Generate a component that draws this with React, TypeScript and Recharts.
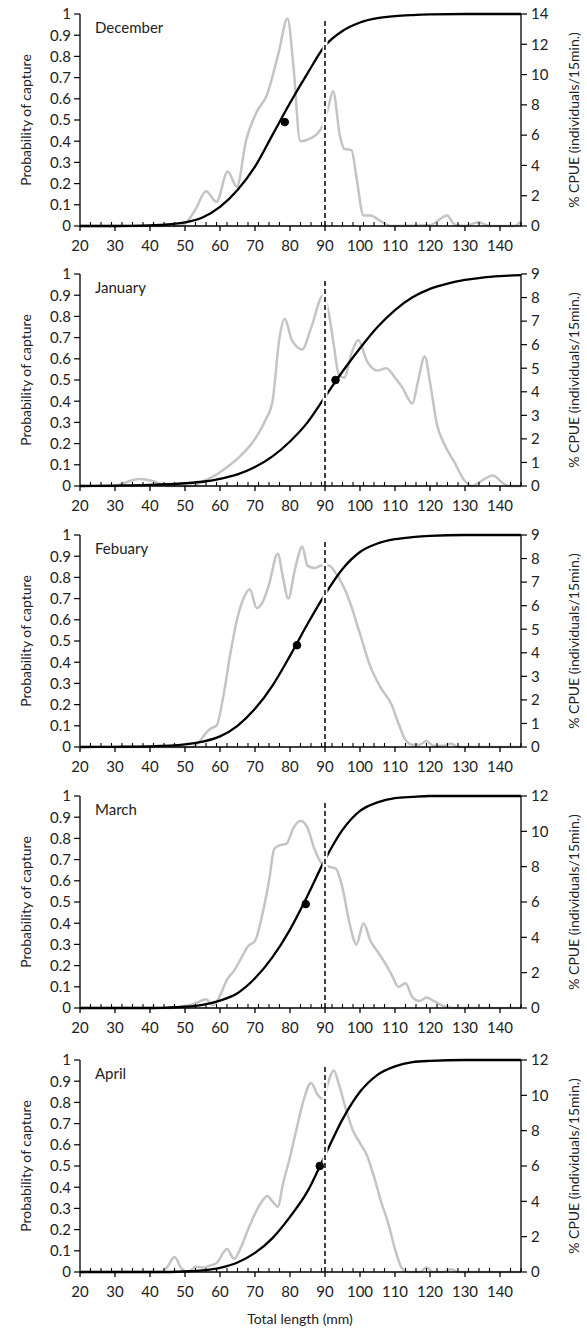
import React from 'react'
import { ComposedChart, Line, XAxis, YAxis, ReferenceLine, ReferenceDot } from 'recharts'

const FONT = 'Lato, "Open Sans", sans-serif'
const INK = '#222'

const monthNames = ['December', 'January', 'Febuary', 'March', 'April']
const plotTops = [14, 274, 535, 796, 1060]
const cpueMax = [14, 9, 9, 12, 12]
const cpueTicks = [
  [0, 2, 4, 6, 8, 10, 12, 14],
  [0, 1, 2, 3, 4, 5, 6, 7, 8, 9],
  [0, 1, 2, 3, 4, 5, 6, 7, 8, 9],
  [0, 2, 4, 6, 8, 10, 12],
  [0, 2, 4, 6, 8, 10, 12],
]
const probTicks = [0, 0.1, 0.2, 0.3, 0.4, 0.5, 0.6, 0.7, 0.8, 0.9, 1]
const lengthTicks = [20, 30, 40, 50, 60, 70, 80, 90, 100, 110, 120, 130, 140]
const minorTicks = Array.from({ length: 43 }, (_, i) => 20 + 3 * i)
const allTicks = Array.from(new Set([...lengthTicks, ...minorTicks])).sort((a, b) => a - b)
const refLength = 90

// length at 50% capture (black dot)
const l50 = [
  { x: 78.5, p: 0.49 },
  { x: 93, p: 0.5 },
  { x: 82, p: 0.48 },
  { x: 84.5, p: 0.49 },
  { x: 88.5, p: 0.5 },
]

// probability of capture curves [length, p]
const decProb = [[20, 0], [30, 0], [40, 0.003], [45, 0.007], [50, 0.017], [55, 0.04], [60, 0.09], [65, 0.17], [70, 0.28], [75, 0.43], [80, 0.58], [85, 0.72], [90, 0.85], [95, 0.92], [100, 0.96], [105, 0.98], [110, 0.99], [115, 0.995], [120, 0.998], [130, 1], [146, 1]]
const janProb = [[20, 0], [30, 0.002], [40, 0.005], [50, 0.013], [55, 0.02], [60, 0.034], [65, 0.055], [70, 0.09], [75, 0.14], [80, 0.21], [85, 0.3], [90, 0.42], [95, 0.54], [100, 0.65], [105, 0.75], [110, 0.83], [115, 0.89], [120, 0.93], [125, 0.955], [130, 0.972], [135, 0.983], [140, 0.99], [146, 0.995]]
const febProb = [[20, 0], [30, 0.001], [40, 0.003], [50, 0.012], [55, 0.025], [60, 0.05], [65, 0.1], [70, 0.18], [75, 0.29], [80, 0.43], [85, 0.58], [90, 0.72], [95, 0.84], [100, 0.92], [105, 0.96], [110, 0.98], [115, 0.99], [120, 0.996], [130, 1], [146, 1]]
const marProb = [[20, 0], [40, 0], [45, 0.002], [50, 0.006], [55, 0.015], [60, 0.035], [65, 0.07], [70, 0.14], [75, 0.24], [80, 0.37], [85, 0.53], [90, 0.7], [95, 0.84], [100, 0.93], [105, 0.97], [110, 0.99], [115, 0.996], [120, 1], [146, 1]]
const aprProb = [[20, 0], [45, 0], [50, 0.003], [55, 0.008], [60, 0.02], [65, 0.045], [70, 0.09], [75, 0.16], [80, 0.26], [85, 0.38], [90, 0.55], [95, 0.72], [100, 0.85], [105, 0.93], [110, 0.97], [115, 0.99], [120, 0.996], [130, 1], [146, 1]]

// % CPUE (individuals/15 min) [length, cpue]
const decCpue = [[20, 0], [48, 0], [50, 0.15], [53, 1.1], [56, 2.3], [59, 1.6], [62.2, 3.6], [64.8, 2.6], [67.5, 5.7], [70.4, 7.5], [73.3, 8.6], [76.7, 11.4], [79.3, 13.7], [81, 10.5], [82.9, 5.6], [86, 5.8], [89.5, 6.7], [91, 7.9], [92.3, 8.9], [94.3, 5.9], [95.5, 5.1], [97.6, 5.0], [99, 3.2], [101, 0.7], [103, 0.7], [106, 0.3], [109, 0], [120, 0.05], [124.9, 0.7], [127, 0.1], [130, 0], [133.8, 0.25], [137, 0], [144, 0], [146, 0.3]]
const janCpue = [[20, 0], [30, 0], [33, 0.15], [37, 0.3], [41, 0.2], [45, 0], [52, 0], [55, 0.2], [58, 0.4], [62, 0.8], [66, 1.3], [70, 2.0], [73, 2.8], [75, 3.6], [77, 6.3], [78.5, 7.1], [80.5, 6.2], [83.5, 5.8], [86, 6.7], [89.5, 8.1], [91, 7.4], [92.5, 6.0], [94, 4.7], [95.5, 4.6], [97.5, 5.6], [99.5, 6.2], [102, 5.3], [105, 4.9], [107.5, 5.0], [110, 4.6], [112, 4.2], [115, 3.5], [116.5, 4.4], [118.5, 5.5], [120, 4.4], [122, 2.6], [124, 1.8], [127, 1.0], [130, 0.2], [132, 0], [134.5, 0.2], [138, 0.45], [141, 0.1], [142.5, 0], [146, 0]]
const febCpue = [[20, 0], [52, 0], [54, 0.2], [56, 0.6], [57.5, 0.8], [59, 0.9], [61, 2.2], [63, 4.0], [65, 5.5], [67, 6.4], [68.5, 6.7], [70.5, 5.9], [72, 6.1], [74, 6.9], [76.5, 8.2], [78, 7.2], [79.5, 6.3], [81.5, 7.6], [83.5, 8.5], [85, 7.7], [87, 7.6], [89, 7.7], [91, 7.7], [93, 7.4], [95, 6.9], [97, 6.2], [100, 4.8], [103, 3.4], [106, 2.5], [109, 1.8], [111, 1.0], [113, 0.3], [115, 0.1], [117, 0.1], [119, 0.25], [121, 0.05], [124, 0.05], [126, 0.15], [128, 0], [146, 0]]
const marCpue = [[20, 0], [46, 0], [49, 0.1], [52, 0.2], [54, 0.35], [56, 0.5], [58, 0.15], [60, 0.7], [62, 1.6], [64, 2.1], [66, 2.8], [68, 3.5], [70, 3.8], [72, 5.2], [74, 7.2], [75.5, 9.0], [77, 9.2], [79, 9.3], [81, 10.2], [83, 10.6], [85, 10.2], [87, 9.0], [89, 8.2], [91, 8.0], [93, 7.9], [95, 6.8], [97, 4.8], [99, 3.6], [101, 4.8], [103, 3.8], [105, 3.2], [107, 2.6], [109, 1.9], [111, 1.2], [113, 1.4], [115, 0.6], [117, 0.4], [119, 0.6], [121, 0.4], [124, 0.1], [127, 0], [146, 0]]
const aprCpue = [[20, 0], [43, 0], [45, 0.3], [47, 0.85], [49, 0.2], [51, 0], [53, 0.3], [55, 0.25], [57, 0.35], [59, 0.5], [62, 1.3], [64, 0.75], [66, 1.4], [68, 2.4], [70, 3.3], [72, 4.0], [73.5, 4.3], [75, 4.0], [76.5, 3.7], [78, 5.0], [80, 6.5], [82, 8.2], [84, 9.8], [86, 10.7], [88, 10.0], [89.5, 9.8], [91, 10.8], [92.5, 11.4], [94, 10.6], [96, 9.2], [98, 8.0], [100, 7.3], [102, 6.6], [104, 5.4], [106, 4.0], [108, 2.8], [110, 1.3], [112, 0.2], [113.5, 0], [117, 0], [119, 0.25], [121, 0], [124, 0], [126, 0.15], [128, 0], [146, 0]]

const probSeries = [decProb, janProb, febProb, marProb, aprProb]
const cpueSeries = [decCpue, janCpue, febCpue, marCpue, aprCpue]

const toRows = (pairs: number[][]) => pairs.map(([x, v]) => ({ x, v }))

const PLOT_H = 212
const TOP_PAD = 12
const X_AXIS_H = 34

function LengthTick({ x, y, payload }: any) {
  const v = payload.value
  const major = v % 10 === 0
  return (
    <g>
      {major ? (
        <line x1={x} x2={x} y1={y} y2={y + 5} stroke="#000" strokeWidth={1.3} />
      ) : (
        <line x1={x} x2={x} y1={y} y2={y - 4} stroke="#000" strokeWidth={1.1} />
      )}
      {major && v <= 140 && (
        <text x={x} y={y + 21} textAnchor="middle" dominantBaseline="middle" fontSize={15} fontFamily={FONT} fill={INK}>
          {v}
        </text>
      )}
    </g>
  )
}

function Panel({ i }: { i: number }) {
  const top = plotTops[i]
  const chartH = TOP_PAD + PLOT_H + X_AXIS_H
  return (
    <>
      <div style={{ position: 'absolute', left: 0, top: top - TOP_PAD }}>
        <ComposedChart width={587} height={chartH} margin={{ top: TOP_PAD, right: 0, bottom: 0, left: 0 }}>
          <XAxis
            type="number"
            dataKey="x"
            domain={[20, 146]}
            ticks={allTicks}
            interval={0}
            allowDataOverflow
            height={X_AXIS_H}
            tickSize={0}
            tickMargin={0}
            tickLine={false}
            tick={<LengthTick />}
            axisLine={{ stroke: '#000', strokeWidth: 1.3 }}
          />
          <YAxis
            yAxisId="left"
            domain={[0, 1]}
            ticks={probTicks}
            interval={0}
            width={80}
            tickSize={6}
            tickMargin={3}
            axisLine={{ stroke: '#000', strokeWidth: 1.3 }}
            tickLine={{ stroke: '#000', strokeWidth: 1.2 }}
            tick={{ fontSize: 15, fontFamily: FONT, fill: INK }}
          />
          <YAxis
            yAxisId="right"
            orientation="right"
            domain={[0, cpueMax[i]]}
            ticks={cpueTicks[i]}
            interval={0}
            width={66}
            tickSize={6}
            tickMargin={4}
            axisLine={{ stroke: '#000', strokeWidth: 1.3 }}
            tickLine={{ stroke: '#000', strokeWidth: 1.2 }}
            tick={{ fontSize: 15, fontFamily: FONT, fill: INK, textAnchor: 'start' }}
          />
          <Line
            yAxisId="right"
            data={toRows(cpueSeries[i])}
            dataKey="v"
            type="monotone"
            stroke="#c4c4c4"
            strokeWidth={2.5}
            dot={false}
            activeDot={false}
            isAnimationActive={false}
          />
          <Line
            yAxisId="left"
            data={toRows(probSeries[i])}
            dataKey="v"
            type="monotone"
            stroke="#000"
            strokeWidth={2.3}
            dot={false}
            activeDot={false}
            isAnimationActive={false}
          />
          <ReferenceLine
            yAxisId="left"
            segment={[{ x: refLength, y: 0.006 }, { x: refLength, y: 0.98 }]}
            stroke="#fff"
            strokeWidth={5}
          />
          <ReferenceLine
            yAxisId="left"
            segment={[{ x: refLength, y: 0 }, { x: refLength, y: 0.98 }]}
            stroke="#000"
            strokeWidth={1.5}
            strokeDasharray="5 3"
          />
          <ReferenceDot yAxisId="left" x={l50[i].x} y={l50[i].p} r={3.8} fill="#000" stroke="#000" />
        </ComposedChart>
      </div>
      <div
        style={{
          position: 'absolute',
          left: 95,
          top: top + 4,
          fontFamily: FONT,
          fontSize: 15,
          color: INK,
          whiteSpace: 'nowrap',
        }}
      >
        {monthNames[i]}
      </div>
      <div
        style={{
          position: 'absolute',
          left: 25,
          top: top + PLOT_H / 2,
          transform: 'translate(-50%, -50%) rotate(-90deg)',
          fontFamily: FONT,
          fontSize: 14,
          color: INK,
          whiteSpace: 'nowrap',
        }}
      >
        Probability of capture
      </div>
      <div
        style={{
          position: 'absolute',
          left: 573,
          top: top + PLOT_H / 2,
          transform: 'translate(-50%, -50%) rotate(-90deg)',
          fontFamily: FONT,
          fontSize: 14,
          color: INK,
          whiteSpace: 'nowrap',
        }}
      >
        % CPUE (individuals/15min.)
      </div>
    </>
  )
}

export default function App() {
  return (
    <div style={{ position: 'absolute', left: 0, top: 0, width: 587, height: 1328, background: '#fff' }}>
      {monthNames.map((_, i) => (
        <Panel key={i} i={i} />
      ))}
      <div
        style={{
          position: 'absolute',
          left: 300,
          top: 1318,
          transform: 'translate(-50%, -50%)',
          fontFamily: FONT,
          fontSize: 14,
          color: INK,
          whiteSpace: 'nowrap',
        }}
      >
        Total length (mm)
      </div>
    </div>
  )
}
